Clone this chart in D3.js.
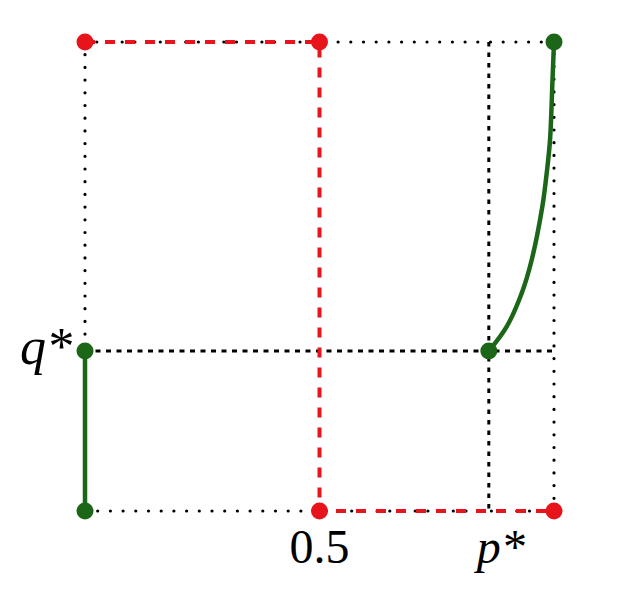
<!DOCTYPE html>
<html><head><meta charset="utf-8">
<script src="https://cdn.jsdelivr.net/npm/d3@7"></script>
<style>html,body{margin:0;padding:0;background:#fff;}</style>
</head><body>
<svg id="c" width="624" height="591"></svg>
<script>
const pStar = 0.861;
const qStar = 0.341;
const redPath = [[0,1],[0.5,1],[0.5,0],[1,0]];
const greenSegment = [[0,0],[0,qStar]];
const greenCurve = [[pStar,qStar],[0.8991,0.393],[0.9311,0.4642],[0.9524,0.5352],[0.9751,0.6488],[0.9844,0.720],[0.9915,0.791],[0.9968,0.919],[1,1]];
const redPoints = [[0,1],[0.5,1],[0.5,0],[1,0]];
const greenPoints = [[1,1],[0,qStar],[pStar,qStar],[0,0]];
const xLabels = [{v:0.5, t:"0.5", italic:false},{v:pStar, t:"p*", italic:true}];
const yLabels = [{v:qStar, t:"q*", italic:true}];

const svg = d3.select("#c");
const x = d3.scaleLinear().domain([0,1]).range([85,554]);
const y = d3.scaleLinear().domain([0,1]).range([511,42]);
const line = d3.line().x(d=>x(d[0])).y(d=>y(d[1]));
const RED = "#e8141c", GREEN = "#1b6617";

// dotted boundary
const box = [[0,0],[1,0],[1,1],[0,1],[0,0]];
for (let i=0;i<4;i++){
  svg.append("path").attr("d", line([box[i],box[i+1]]))
    .attr("fill","none").attr("stroke","#000").attr("stroke-width",3.2)
    .attr("stroke-linecap","round").attr("stroke-dasharray","0 12.7");
}
// dashed at q* and p*
svg.append("path").attr("d", line([[0,qStar],[1,qStar]]))
  .attr("fill","none").attr("stroke","#000").attr("stroke-width",3).attr("stroke-dasharray","5 5.5");
svg.append("path").attr("d", line([[pStar,1],[pStar,0]]))
  .attr("fill","none").attr("stroke","#000").attr("stroke-width",3).attr("stroke-dasharray","4.5 6");

// red dashed path
svg.append("path").attr("d", line(redPath))
  .attr("fill","none").attr("stroke",RED).attr("stroke-width",4).attr("stroke-dasharray","10 10");

// green
svg.append("path").attr("d", line(greenSegment))
  .attr("fill","none").attr("stroke",GREEN).attr("stroke-width",4.5);
const curveLine = d3.line().x(d=>x(d[0])).y(d=>y(d[1])).curve(d3.curveCatmullRom.alpha(0.5));
svg.append("path").attr("d", curveLine(greenCurve))
  .attr("fill","none").attr("stroke",GREEN).attr("stroke-width",4.5);

// points
svg.selectAll("circle.r").data(redPoints).join("circle").attr("class","r")
  .attr("cx",d=>x(d[0])).attr("cy",d=>y(d[1])).attr("r",8.5).attr("fill",RED);
svg.selectAll("circle.g").data(greenPoints).join("circle").attr("class","g")
  .attr("cx",d=>x(d[0])).attr("cy",d=>y(d[1])).attr("r",8.5).attr("fill",GREEN);

// labels
const font = "'Liberation Serif','Times New Roman',serif";
svg.selectAll("text.x").data(xLabels).join("text").attr("class","x")
  .attr("x",d=>x(d.v) + (d.italic?12:0)).attr("y",563)
  .attr("text-anchor","middle").attr("font-family",font).attr("font-size",48)
  .attr("font-style",d=>d.italic?"italic":"normal").attr("fill","#000").text(d=>d.t);
svg.selectAll("text.y").data(yLabels).join("text").attr("class","y")
  .attr("x",x(0)-13).attr("y",d=>y(d.v)+13)
  .attr("text-anchor","end").attr("font-family",font).attr("font-size",52)
  .attr("font-style",d=>d.italic?"italic":"normal").attr("fill","#000").text(d=>d.t);
</script>
</body></html>
